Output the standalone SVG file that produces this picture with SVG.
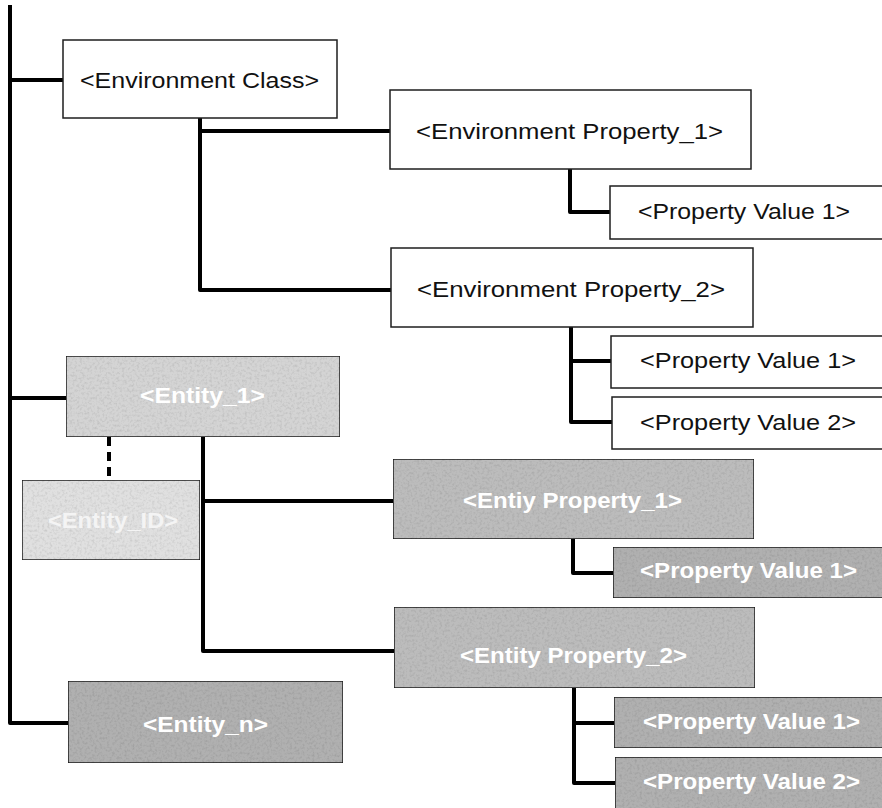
<svg xmlns="http://www.w3.org/2000/svg" width="882" height="808" viewBox="0 0 882 808">
  <defs>
    <!-- grainy print texture for the shaded boxes -->
    <filter id="grain" x="0" y="0" width="100%" height="100%">
      <feTurbulence type="fractalNoise" baseFrequency="0.4" numOctaves="2" seed="7" result="noise"/>
      <feColorMatrix in="noise" type="matrix" values="0 0 0 0 0  0 0 0 0 0  0 0 0 0 0  0 0 0 0.45 -0.2" result="spots"/>
      <feComposite in="spots" in2="SourceGraphic" operator="in" result="clipped"/>
      <feMerge>
        <feMergeNode in="SourceGraphic"/>
        <feMergeNode in="clipped"/>
      </feMerge>
    </filter>
  </defs>
  <style>
    .box { stroke: #1e1e1e; stroke-width: 1.5; }
    .env { fill: #ffffff; }
    .ent1 { fill: #d4d4d4; }
    .entid { fill: #e0e0e0; }
    .eprop { fill: #bcbcbc; }
    .pval { fill: #b0b0b0; }
    .entn { fill: #b0b0b0; }
    .shade { filter: url(#grain); }
    .lbl { font-family: "Liberation Sans", Arial, sans-serif; font-size: 22px; fill: #111111; }
    .wlbl { font-family: "Liberation Sans", Arial, sans-serif; font-size: 22px; font-weight: bold; fill: #ffffff; }
    .faint { fill: #f4f4f4; }
    .link { fill: none; stroke: #000000; stroke-width: 4; stroke-linejoin: round; stroke-linecap: butt; }
    .dash { fill: none; stroke: #000000; stroke-width: 4; stroke-dasharray: 9 6; }
  </style>

  <!-- tree connectors -->
  <g id="connectors">
    <path class="link" d="M10 5 V723 H68"/>
    <path class="link" d="M10 80 H63"/>
    <path class="link" d="M10 398 H66"/>
    <path class="link" d="M200 118 V290 H391"/>
    <path class="link" d="M200 131 H390"/>
    <path class="link" d="M570 169 V212 H610"/>
    <path class="link" d="M571 327 V422 H612"/>
    <path class="link" d="M571 361 H611"/>
    <path class="dash" d="M109 437 V480"/>
    <path class="link" d="M203 437 V651 H394"/>
    <path class="link" d="M203 501 H393"/>
    <path class="link" d="M573 539 V573 H613"/>
    <path class="link" d="M574 688 V783 H615"/>
    <path class="link" d="M574 723 H614"/>
  </g>

  <!-- environment branch -->
  <g id="environment-class">
    <rect class="box env" x="63" y="40" width="274" height="78"/>
    <text class="lbl" x="80" y="88" textLength="239" lengthAdjust="spacingAndGlyphs">&lt;Environment Class&gt;</text>
  </g>
  <g id="environment-property-1">
    <rect class="box env" x="390" y="90" width="361" height="79"/>
    <text class="lbl" x="416" y="139" textLength="307" lengthAdjust="spacingAndGlyphs">&lt;Environment Property_1&gt;</text>
  </g>
  <g id="env-prop1-value-1">
    <rect class="box env" x="610" y="186" width="280" height="53"/>
    <text class="lbl" x="638" y="219" textLength="212" lengthAdjust="spacingAndGlyphs">&lt;Property Value 1&gt;</text>
  </g>
  <g id="environment-property-2">
    <rect class="box env" x="391" y="248" width="362" height="79"/>
    <text class="lbl" x="417" y="297" textLength="308" lengthAdjust="spacingAndGlyphs">&lt;Environment Property_2&gt;</text>
  </g>
  <g id="env-prop2-value-1">
    <rect class="box env" x="611" y="336" width="280" height="52"/>
    <text class="lbl" x="640" y="368" textLength="216" lengthAdjust="spacingAndGlyphs">&lt;Property Value 1&gt;</text>
  </g>
  <g id="env-prop2-value-2">
    <rect class="box env" x="612" y="397" width="280" height="52"/>
    <text class="lbl" x="640" y="430" textLength="216" lengthAdjust="spacingAndGlyphs">&lt;Property Value 2&gt;</text>
  </g>

  <!-- entity branch -->
  <g id="entity-1">
    <rect class="box ent1 shade" x="66" y="356" width="274" height="81"/>
    <text class="wlbl" x="140" y="403" textLength="125" lengthAdjust="spacingAndGlyphs">&lt;Entity_1&gt;</text>
  </g>
  <g id="entity-id">
    <rect class="box entid shade" x="22" y="480" width="178" height="80"/>
    <text class="wlbl faint" x="48" y="528" textLength="130" lengthAdjust="spacingAndGlyphs">&lt;Entity_ID&gt;</text>
  </g>
  <g id="entity-property-1">
    <rect class="box eprop shade" x="393" y="459" width="361" height="80"/>
    <text class="wlbl" x="463" y="508" textLength="219" lengthAdjust="spacingAndGlyphs">&lt;Entiy Property_1&gt;</text>
  </g>
  <g id="ent-prop1-value-1">
    <rect class="box pval shade" x="613" y="547" width="280" height="51"/>
    <text class="wlbl" x="640" y="578" textLength="217" lengthAdjust="spacingAndGlyphs">&lt;Property Value 1&gt;</text>
  </g>
  <g id="entity-property-2">
    <rect class="box eprop shade" x="394" y="607" width="361" height="81"/>
    <text class="wlbl" x="460" y="663" textLength="227" lengthAdjust="spacingAndGlyphs">&lt;Entity Property_2&gt;</text>
  </g>
  <g id="ent-prop2-value-1">
    <rect class="box pval shade" x="614" y="697" width="280" height="51"/>
    <text class="wlbl" x="643" y="729" textLength="217" lengthAdjust="spacingAndGlyphs">&lt;Property Value 1&gt;</text>
  </g>
  <g id="ent-prop2-value-2">
    <rect class="box pval shade" x="615" y="757" width="280" height="60"/>
    <text class="wlbl" x="643" y="789" textLength="217" lengthAdjust="spacingAndGlyphs">&lt;Property Value 2&gt;</text>
  </g>
  <g id="entity-n">
    <rect class="box entn shade" x="68" y="681" width="275" height="82"/>
    <text class="wlbl" x="143" y="732" textLength="125" lengthAdjust="spacingAndGlyphs">&lt;Entity_n&gt;</text>
  </g>
</svg>
